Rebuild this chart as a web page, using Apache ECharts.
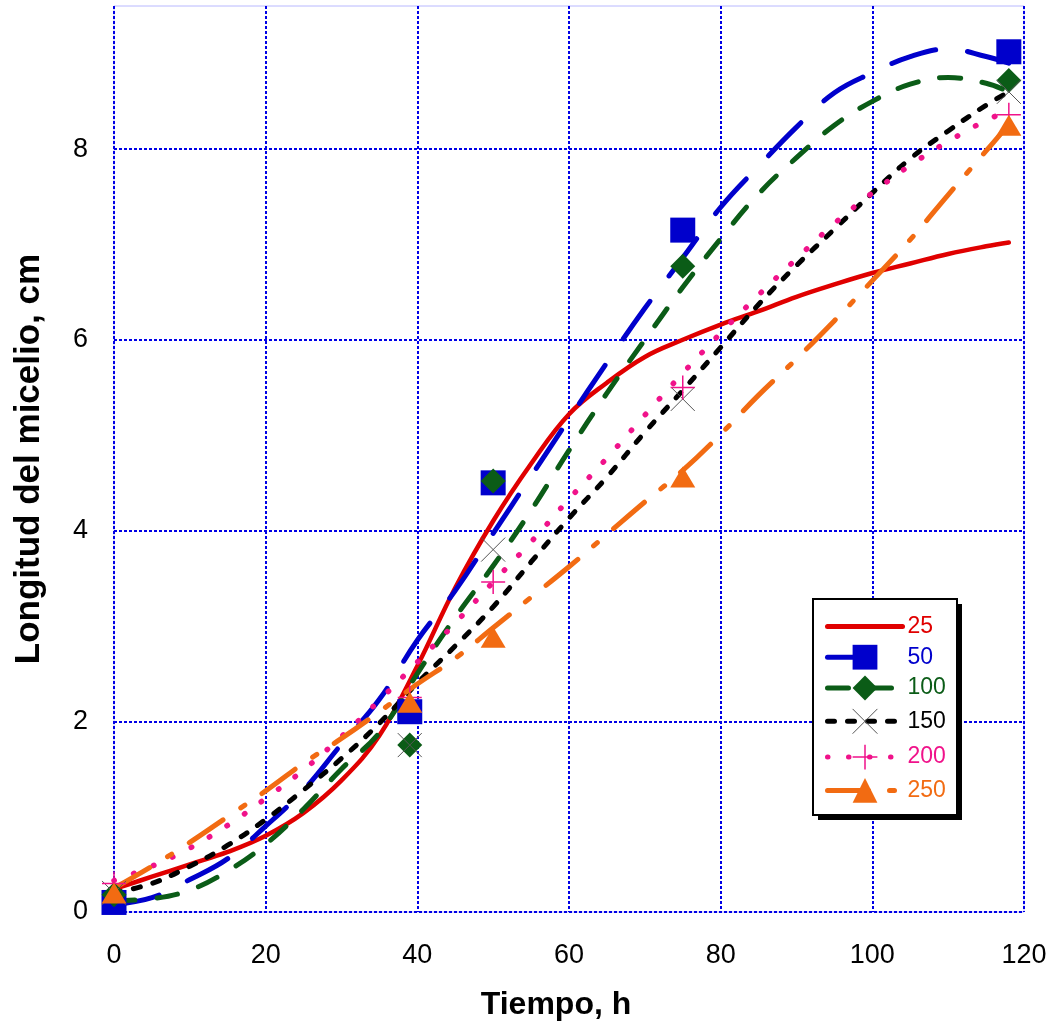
<!DOCTYPE html>
<html>
<head>
<meta charset="utf-8">
<script src="https://cdn.jsdelivr.net/npm/echarts@6/dist/echarts.min.js"></script>
<style>
  html, body { margin: 0; padding: 0; background: #fff; }
  #chart { width: 1050px; height: 1027px; }
</style>
</head>
<body>
<div id="chart"></div>
<script>
// Fitted growth curves, sampled along time (h)
const curveTimes = [0, 5, 10, 15, 20, 25, 30, 35, 40, 45, 50, 55, 60, 65, 70, 75, 80, 85, 90, 95, 100, 105, 110, 115, 118];
const curve25  = [0.24, 0.37, 0.5, 0.63, 0.8, 1.04, 1.38, 1.85, 2.58, 3.4, 4.1, 4.7, 5.22, 5.55, 5.82, 6.0, 6.16, 6.3, 6.45, 6.58, 6.7, 6.8, 6.9, 6.98, 7.02];
const curve50  = [0.08, 0.15, 0.34, 0.56, 0.9, 1.28, 1.76, 2.23, 2.85, 3.37, 3.97, 4.57, 5.17, 5.76, 6.33, 6.86, 7.39, 7.82, 8.23, 8.59, 8.8, 8.97, 9.05, 8.97, 8.9];
const curve100 = [0.12, 0.14, 0.23, 0.43, 0.71, 1.08, 1.5, 1.88, 2.5, 3.09, 3.63, 4.21, 4.84, 5.44, 6.0, 6.55, 7.06, 7.53, 7.91, 8.25, 8.5, 8.68, 8.75, 8.69, 8.6];
const curve150 = [0.2, 0.3, 0.48, 0.7, 0.97, 1.28, 1.61, 1.98, 2.4, 2.79, 3.2, 3.67, 4.13, 4.56, 5.03, 5.47, 5.92, 6.37, 6.78, 7.16, 7.54, 7.9, 8.19, 8.46, 8.6];
const curve200 = [0.33, 0.48, 0.67, 0.91, 1.19, 1.49, 1.84, 2.22, 2.62, 3.03, 3.46, 3.88, 4.33, 4.76, 5.21, 5.65, 6.07, 6.47, 6.85, 7.22, 7.54, 7.83, 8.08, 8.3, 8.4];
const curve250 = [0.25, 0.48, 0.73, 1.0, 1.27, 1.56, 1.82, 2.1, 2.39, 2.66, 2.98, 3.3, 3.62, 3.96, 4.3, 4.63, 5.01, 5.42, 5.8, 6.2, 6.62, 7.05, 7.52, 7.98, 8.26];

// Measured mycelium length at each sampling time
const sampleTimes = [0, 39, 50, 75, 118];
const measured50  = [0.1, 2.1, 4.5, 7.15, 9.02];
const measured100 = [0.18, 1.75, 4.52, 6.77, 8.72];
const measured150 = [0.2, 1.75, 3.8, 5.38, 8.6];
const measured200 = [0.3, 2.25, 3.46, 5.5, 8.36];
const measured250 = [0.2, 2.2, 2.88, 4.56, 8.25];

// Axis ticks
const xTicks = [0, 20, 40, 60, 80, 100, 120];
const yTicks = [0, 2, 4, 6, 8];

const seriesNames = ['25', '50', '100', '150', '200', '250'];

const FONT = '"Liberation Sans", Arial, Helvetica, sans-serif';
const C = {
  r: '#e00000', b: '#0000cc', g: '#0b5c17', k: '#000000', p: '#f0128a', o: '#f26b12'
};

const pairs = (xs, ys) => xs.map((x, i) => [x, ys[i]]);

const XMARK = 'path://M0,0L10,10M0,10L10,0';
const PLUS = 'path://M5,0L5,10M0,5L10,5';

function curve(name, values, color, type, width, symbol, itemStyle) {
  return {
    name, type: 'line', data: pairs(curveTimes, values),
    smooth: 0.4, showSymbol: false, symbol: symbol,
    lineStyle: { color, width, type, cap: 'round', join: 'round' },
    itemStyle: itemStyle || { color, opacity: 1 },
    emphasis: { disabled: true }, silent: true, z: 2
  };
}
function markers(name, values, symbol, size, itemStyle) {
  return {
    name, type: 'scatter', data: pairs(sampleTimes, values),
    symbol, symbolSize: size, itemStyle: Object.assign({ opacity: 1 }, itemStyle),
    emphasis: { disabled: true }, silent: true, z: 3
  };
}

const chart = echarts.init(document.getElementById('chart'), null, { renderer: 'canvas' });

chart.setOption({
  animation: false,
  backgroundColor: '#ffffff',
  textStyle: { fontFamily: FONT },
  grid: {
    left: 114, right: 26, top: 6, bottom: 115,
    show: true, borderColor: '#b8b8ff', borderWidth: 1, backgroundColor: 'transparent'
  },
  xAxis: {
    type: 'value', min: 0, max: 120, interval: 20,
    name: 'Tiempo, h', nameLocation: 'middle', nameGap: 77,
    nameTextStyle: { fontFamily: FONT, fontSize: 32, fontWeight: 'bold', color: '#000', padding: [0, 26, 0, 0] },
    axisLine: { show: false }, axisTick: { show: false },
    axisLabel: {
      margin: 30, fontSize: 27, color: '#000', fontFamily: FONT,
      formatter: v => (xTicks.indexOf(v) >= 0 ? String(v) : '')
    },
    splitLine: { show: true, lineStyle: { color: '#0000e6', width: 2, type: [3, 2] } }
  },
  yAxis: {
    type: 'value', min: 0, max: 9.5, interval: 2,
    name: 'Longitud del micelio, cm', nameLocation: 'middle', nameGap: 67,
    nameTextStyle: { fontFamily: FONT, fontSize: 35, fontWeight: 'bold', color: '#000' },
    axisLine: { show: false }, axisTick: { show: false },
    axisLabel: {
      margin: 26, fontSize: 27, color: '#000', fontFamily: FONT,
      formatter: v => (yTicks.indexOf(v) >= 0 ? String(v) : '')
    },
    splitLine: { show: true, showMaxLine: false, lineStyle: { color: '#0000e6', width: 2, type: [3, 2] } }
  },
  // Legend frame with its offset drop shadow
  graphic: [
    { type: 'rect', left: 818, top: 604, z: 3, silent: true,
      shape: { width: 144, height: 216 }, style: { fill: '#000000' } },
    { type: 'rect', left: 812, top: 598, z: 3, silent: true,
      shape: { width: 144, height: 216 }, style: { fill: '#ffffff', stroke: '#000000', lineWidth: 2 } }
  ],
  legend: {
    orient: 'vertical', left: 812, top: 608, z: 5,
    padding: [6, 14, 6, 13],
    itemWidth: 75, itemHeight: 31, itemGap: 6, itemTextGap: 5,
    backgroundColor: 'transparent', borderWidth: 0,
    lineStyle: { width: 5 },
    textStyle: { fontSize: 23, fontFamily: FONT },
    selectedMode: false,
    data: [
      { name: '25', itemStyle: { opacity: 0 }, textStyle: { color: C.r } },
      { name: '50', textStyle: { color: C.b } },
      { name: '100', textStyle: { color: C.g } },
      { name: '150', itemStyle: { borderWidth: 1 }, textStyle: { color: C.k } },
      { name: '200', itemStyle: { borderWidth: 1.5 }, textStyle: { color: C.p } },
      { name: '250', textStyle: { color: C.o } }
    ]
  },
  series: [
    curve(seriesNames[0], curve25, C.r, 'solid', 4.5, 'none'),
    curve(seriesNames[1], curve50, C.b, [46, 32], 5, 'rect'),
    curve(seriesNames[2], curve100, C.g, [21, 22], 5, 'diamond'),
    curve(seriesNames[3], curve150, C.k, [7, 13], 5, XMARK,
      { color: 'none', borderColor: '#555555', borderWidth: 1 }),
    curve(seriesNames[4], curve200, C.p, [0.5, 20.5], 5.5, PLUS,
      { color: 'none', borderColor: C.p, borderWidth: 1.5 }),
    curve(seriesNames[5], curve250, C.o, [41, 21, 5, 21], 5, 'triangle'),

    markers(seriesNames[1], measured50, 'rect', 25, { color: C.b }),
    markers(seriesNames[2], measured100, 'diamond', 25, { color: C.g }),
    markers(seriesNames[3], measured150, XMARK, 24,
      { color: 'none', borderColor: '#555555', borderWidth: 1 }),
    markers(seriesNames[4], measured200, PLUS, 24,
      { color: 'none', borderColor: C.p, borderWidth: 1.5 }),
    markers(seriesNames[5], measured250, 'triangle', [25, 21], { color: C.o })
  ]
});
</script>
</body>
</html>
